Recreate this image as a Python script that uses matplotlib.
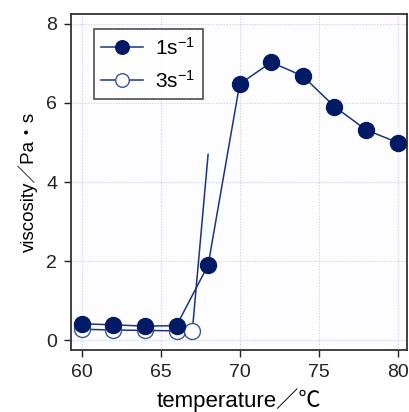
import matplotlib
matplotlib.use("Agg")
import matplotlib.pyplot as plt

plt.rcParams['font.family'] = ['Liberation Sans', 'Noto Sans CJK JP', 'DejaVu Sans']
plt.rcParams['mathtext.fontset'] = 'custom'
plt.rcParams['mathtext.rm'] = 'Liberation Sans'
plt.rcParams['mathtext.it'] = 'Liberation Sans'
plt.rcParams['mathtext.default'] = 'rm'

temp_1s = [60, 62, 64, 66, 68, 70, 72, 74, 76, 78, 80]
visc_1s = [0.42, 0.39, 0.36, 0.37, 1.90, 6.48, 7.03, 6.68, 5.91, 5.32, 5.00]

temp_3s = [60, 62, 64, 66, 67, 68]
visc_3s = [0.28, 0.26, 0.25, 0.24, 0.24, 4.70]

xticks = [60, 65, 70, 75, 80]
yticks = [0, 2, 4, 6, 8]

navy = '#001a66'
linec = '#1c3480'

fig = plt.figure(figsize=(4.09, 4.12), dpi=100)
ax = fig.add_axes([0.1736, 0.1505, 0.8214, 0.8155])
ax.set_facecolor('#fdfdff')

ax.plot(temp_3s, visc_3s, '-o', color=linec, lw=1.1, ms=11.5,
        mfc='white', mec='#3a559a', mew=1.0, markevery=list(range(5)),
        label='3s$^{-1}$', zorder=2)
ax.plot(temp_1s, visc_1s, '-o', color=linec, lw=1.1, ms=11.5,
        mfc=navy, mec=navy, label='1s$^{-1}$', zorder=3)

ax.set_xlim(59.32, 80.59)
ax.set_ylim(-0.245, 8.25)
ax.set_xticks(xticks)
ax.set_yticks(yticks)
ax.grid(True, color='#c8c8ff', ls=(0, (1, 1.5)), lw=0.8)
ax.set_axisbelow(True)

for s in ax.spines.values():
    s.set_color('#333333')
    s.set_linewidth(1.3)
ax.tick_params(direction='out', length=5, width=1, labelsize=14,
               top=False, right=False, colors='#222222', pad=5)

ax.set_xlabel('temperature／℃', fontsize=16, labelpad=5)
ax.set_ylabel('viscosity／Pa・s', fontsize=13.5, labelpad=6)

h, l = ax.get_legend_handles_labels()
leg = ax.legend(h[::-1], l[::-1], loc='upper left', fontsize=15,
                frameon=True, fancybox=False, edgecolor='#222222',
                borderpad=0.35, handlelength=2.0, handletextpad=0.6,
                labelspacing=0.55, borderaxespad=0,
                bbox_to_anchor=(0.068, 0.955), markerscale=0.85)
leg.get_frame().set_linewidth(1.2)

fig.savefig('out.png', dpi=100)
